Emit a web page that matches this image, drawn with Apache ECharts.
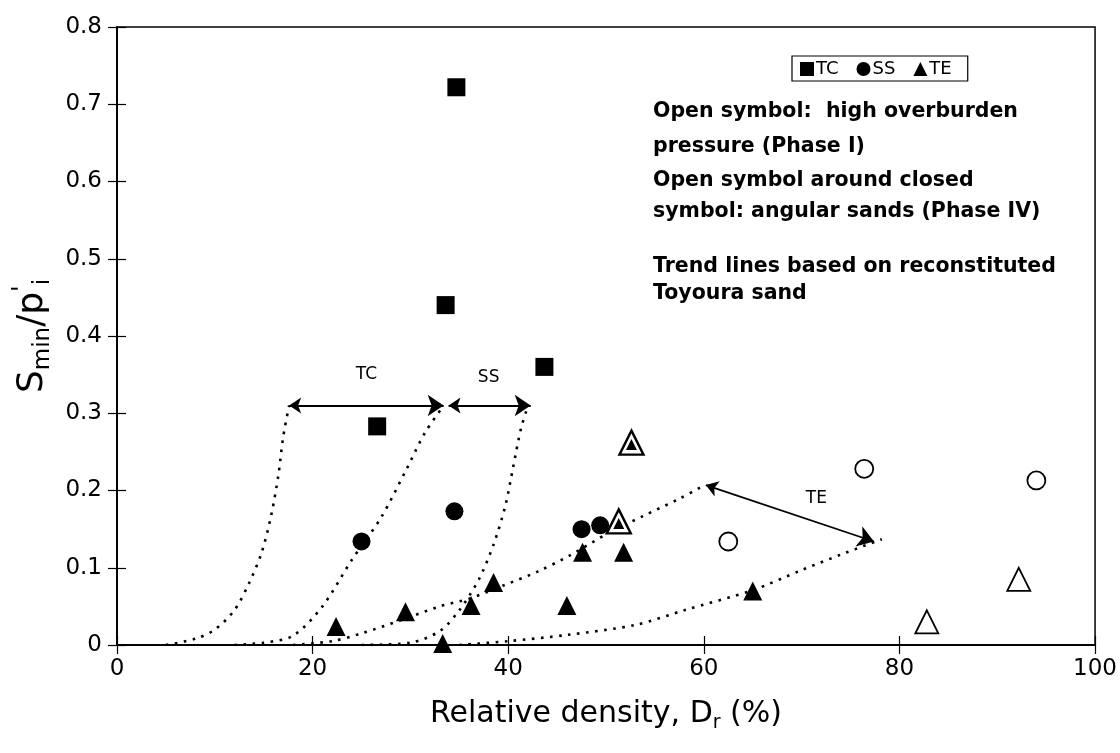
<!DOCTYPE html>
<html><head><meta charset="utf-8">
<script src="https://cdn.jsdelivr.net/npm/echarts@6/dist/echarts.min.js"></script>
<style>html,body{margin:0;padding:0;background:#fff}#c{width:1120px;height:753px}</style>
</head><body><div id="c"></div>
<script>
// ---------- data ----------
const xTickLabels = ['0', '20', '40', '60', '80', '100'];
const yTickLabels = ['0', '0.1', '0.2', '0.3', '0.4', '0.5', '0.6', '0.7', '0.8'];

// filled symbols
const tcPoints = [[33.6, 0.440], [34.7, 0.722], [43.7, 0.360], [26.6, 0.283]];
const ssPoints = [[25.0, 0.134], [34.5, 0.173], [47.5, 0.150], [49.4, 0.155]];
const tePoints = [[22.4, 0.024], [29.5, 0.043], [33.3, 0.002], [36.2, 0.051], [38.5, 0.081],
                  [46.0, 0.051], [47.6, 0.120], [51.8, 0.120], [65.0, 0.070]];
// open symbols: high overburden pressure (Phase I)
const ssOpenPoints = [[62.5, 0.134], [76.4, 0.228], [94.0, 0.213]];
const teOpenPoints = [[82.8, 0.030], [92.2, 0.085]];
// open symbol around closed symbol: angular sands (Phase IV)
const teAngularPoints = [[52.6, 0.262], [51.3, 0.160]];

// trend lines (reconstituted Toyoura sand)
const trendTcLeft = [[5, 0], [8, 0.008], [10, 0.02], [12, 0.045], [13.5, 0.08], [14.8, 0.12],
                     [15.8, 0.17], [16.5, 0.22], [17.0, 0.27], [17.6, 0.31]];
const trendTcSs = [[12, 0], [15, 0.003], [18, 0.012], [21, 0.05], [24, 0.11], [27, 0.165],
                   [29.5, 0.225], [31.5, 0.275], [33.4, 0.31]];
const trendSsRight = [[25, 0], [30, 0.003], [33, 0.018], [35, 0.045], [37, 0.085], [38.5, 0.13],
                      [39.7, 0.18], [40.5, 0.23], [41.3, 0.28], [41.9, 0.305]];
const trendTeUpper = [[18, 0], [22, 0.005], [25, 0.015], [29, 0.032], [33, 0.05], [36, 0.06],
                      [39.5, 0.077], [43, 0.095], [46.3, 0.116], [50.4, 0.146], [53.8, 0.167],
                      [57.6, 0.19], [60.2, 0.208]];
const trendTeLower = [[35, 0], [40, 0.005], [46, 0.013], [53, 0.026], [58, 0.045], [65, 0.071],
                      [70, 0.097], [74, 0.117], [78.2, 0.137]];

// range arrows
const arrowTC = [[17.6, 0.31], [33.4, 0.31]];
const arrowSS = [[33.9, 0.31], [42.3, 0.31]];
const arrowTE = [[60.2, 0.207], [77.4, 0.134]];
const rangeLabelNames = ['TC', 'SS', 'TE'];
const rangeLabelPos = [[25.5, 0.350], [38.0, 0.346], [71.5, 0.190]];

const noteLines = ['Open symbol:  high overburden', 'pressure (Phase I)', 'Open symbol around closed',
                   'symbol: angular sands (Phase IV)', 'Trend lines based on reconstituted', 'Toyoura sand'];

// ---------- chart ----------
const FONT = 'DejaVu Sans';
const chart = echarts.init(document.getElementById('c'), null, { renderer: 'canvas' });
const dotted = { color: '#000', width: 2.6, type: [2.6, 6.5], cap: 'butt' };
const curve = d => ({ type: 'line', data: d, smooth: 0.3, symbol: 'none', lineStyle: dotted, silent: true, z: 1 });
const arrow = d => ({ type: 'lines', coordinateSystem: 'cartesian2d', symbol: ['arrow', 'arrow'], symbolSize: [12, 16],
  lineStyle: { color: '#000', width: 1.8, curveness: 0, opacity: 1 }, data: [{ coords: d }], silent: true, z: 2 });
const noteY = [112, 147, 181, 212, 267, 294];
const blackAxisLine = { show: true, lineStyle: { color: '#000', width: 1.5 } };
const tickStyle = { color: '#000', width: 1.2 };

const option = {
  animation: false,
  backgroundColor: '#fff',
  grid: { left: 117, right: 21, top: 27, bottom: 108, show: true, borderColor: '#000', borderWidth: 1.5, containLabel: false },
  legend: {
    data: ['TC', 'SS', 'TE'], left: 792, top: 56, selectedMode: false,
    borderColor: '#000', borderWidth: 1.2, padding: [4, 16, 3, 8], itemGap: 18, itemWidth: 14, itemHeight: 14,
    textStyle: { fontFamily: FONT, fontSize: 18, color: '#000', padding: [0, 0, 0, -3] }
  },
  xAxis: [{
    type: 'value', min: 0, max: 100, interval: 20,
    axisLine: blackAxisLine,
    axisTick: { show: true, inside: false, length: 9, lineStyle: tickStyle },
    splitLine: { show: false },
    axisLabel: { formatter: v => xTickLabels[Math.round(v / 20)], fontFamily: FONT, fontSize: 23, color: '#000', margin: 13 },
    name: '{n|Relative density, D}{sub|r}{n| (%)}', nameLocation: 'middle', nameGap: 50,
    nameTextStyle: { color: '#000', rich: {
      n: { fontFamily: FONT, fontSize: 30, color: '#000', lineHeight: 38 },
      sub: { fontFamily: FONT, fontSize: 19, color: '#000', lineHeight: 22, verticalAlign: 'bottom' } } }
  }, {
    type: 'value', min: 0, max: 100, interval: 20, position: 'bottom',
    axisLine: blackAxisLine, axisTick: { show: true, inside: true, length: 9, lineStyle: tickStyle },
    axisLabel: { show: false }, splitLine: { show: false }
  }],
  yAxis: [{
    type: 'value', min: 0, max: 0.8, interval: 0.1,
    axisLine: blackAxisLine,
    axisTick: { show: true, inside: false, length: 9, lineStyle: tickStyle },
    splitLine: { show: false },
    axisLabel: { formatter: v => yTickLabels[Math.round(v * 10)], fontFamily: FONT, fontSize: 23, color: '#000', margin: 15 },
    name: '{s|S}{sub|min}{s|/p}{sup|\'}{sub|i}', nameLocation: 'middle', nameGap: 62, nameRotate: 90,
    nameTextStyle: { color: '#000', rich: {
      s: { fontFamily: FONT, fontSize: 36, color: '#000', lineHeight: 44 },
      sub: { fontFamily: FONT, fontSize: 23, color: '#000', lineHeight: 26, verticalAlign: 'bottom' },
      sup: { fontFamily: FONT, fontSize: 24, color: '#000', lineHeight: 30, verticalAlign: 'top' } } }
  }, {
    type: 'value', min: 0, max: 0.8, interval: 0.1, position: 'left',
    axisLine: blackAxisLine, axisTick: { show: true, inside: true, length: 9, lineStyle: tickStyle },
    axisLabel: { show: false }, splitLine: { show: false }
  }],
  series: [
    curve(trendTcLeft), curve(trendTcSs), curve(trendSsRight), curve(trendTeUpper), curve(trendTeLower),
    arrow(arrowTC), arrow(arrowSS), arrow(arrowTE),
    { name: 'TC', type: 'scatter', data: tcPoints, symbol: 'rect', symbolSize: 18, itemStyle: { color: '#000', opacity: 1 }, z: 5 },
    { name: 'SS', type: 'scatter', data: ssPoints, symbol: 'circle', symbolSize: 18, itemStyle: { color: '#000', opacity: 1 }, z: 5 },
    { name: 'TE', type: 'scatter', data: tePoints, symbol: 'triangle', symbolSize: 19, itemStyle: { color: '#000', opacity: 1 }, z: 5 },
    { name: 'SS (Phase I)', type: 'scatter', data: ssOpenPoints, symbol: 'circle', symbolSize: 18,
      itemStyle: { color: '#fff', borderColor: '#000', borderWidth: 1.8, opacity: 1 }, z: 5 },
    { name: 'TE (Phase I)', type: 'scatter', data: teOpenPoints, symbol: 'triangle', symbolSize: 23,
      itemStyle: { color: '#fff', borderColor: '#000', borderWidth: 1.8, opacity: 1 }, z: 5 },
    { name: 'TE (Phase IV)', type: 'scatter', data: teAngularPoints, symbol: 'triangle', symbolSize: 24,
      itemStyle: { color: '#fff', borderColor: '#000', borderWidth: 2.4, opacity: 1 }, z: 5 },
    { name: 'TE (Phase IV) core', type: 'scatter', data: teAngularPoints, symbol: 'triangle', symbolSize: 11,
      symbolOffset: [0, 2], itemStyle: { color: '#000', opacity: 1 }, z: 6 }
  ]
};
chart.setOption(option);

// text annotations: range labels placed through the chart's own scales, plus the note block
const graphics = noteLines.map((t, i) => ({
  type: 'text', x: 653, y: noteY[i], silent: true,
  style: { text: t, fill: '#000', font: 'bold 20.5px "DejaVu Sans"', verticalAlign: 'middle', align: 'left' }
}));
rangeLabelNames.forEach((name, i) => {
  const p = chart.convertToPixel({ gridIndex: 0 }, rangeLabelPos[i]);
  graphics.push({ type: 'text', x: p[0], y: p[1], silent: true, z: 10,
    style: { text: name, fill: '#000', font: '17px "DejaVu Sans"', align: 'center', verticalAlign: 'middle' } });
});
chart.setOption({ graphic: graphics });
</script></body></html>
